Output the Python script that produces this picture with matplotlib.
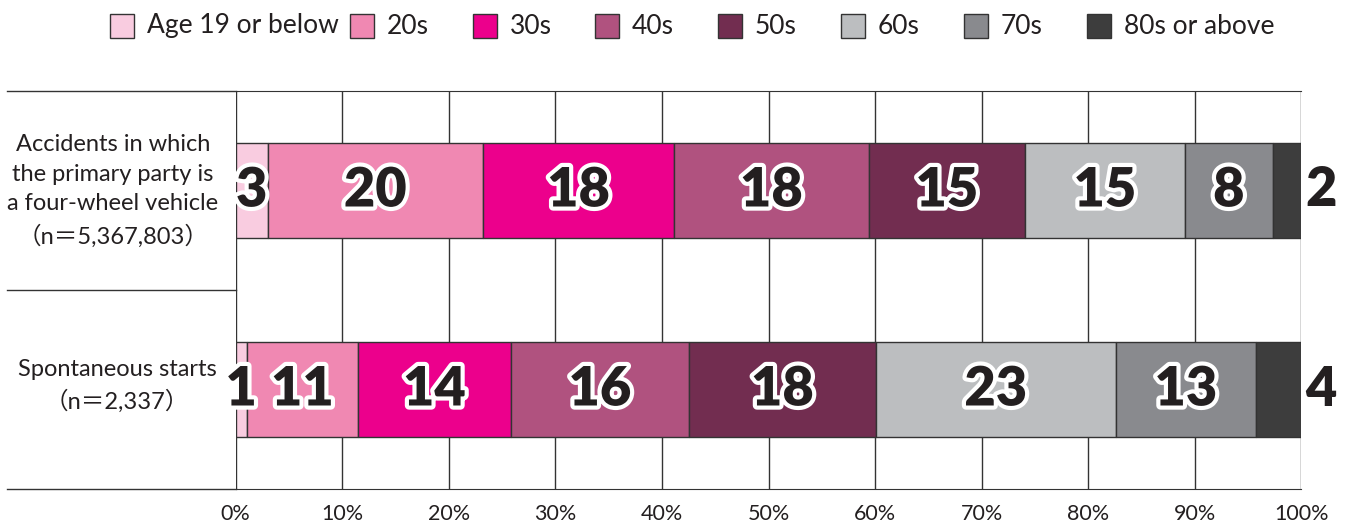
import matplotlib.pyplot as plt
import matplotlib.patheffects as pe
from matplotlib.patches import Rectangle
from matplotlib.lines import Line2D

# 데이터
age_groups = ['Age 19 or below', '20s', '30s', '40s', '50s', '60s', '70s', '80s or above']
colors = ['#F9CCE0', '#F088B2', '#EC008C', '#B0527F', '#722D50', '#BCBEC0', '#898A8E', '#3D3D3D']

four_wheel = [3.0, 20.2, 17.95, 18.24, 14.70, 14.96, 8.29, 2.66]
four_wheel_labels = ['3', '20', '18', '18', '15', '15', '8', '2']
spontaneous = [1.03, 10.47, 14.30, 16.76, 17.49, 22.55, 13.14, 4.25]
spontaneous_labels = ['1', '11', '14', '16', '18', '23', '13', '4']

row_names = ['Accidents in which\nthe primary party is\na four-wheel vehicle\n（n＝5,367,803）',
             'Spontaneous starts\n（n＝2,337）']
xticks = [0, 10, 20, 30, 40, 50, 60, 70, 80, 90, 100]

FONT = ['Lato', 'Noto Sans CJK JP']
TXT = '#231F20'
LINE = '#333333'

W, H = 1350, 522
fig = plt.figure(figsize=(W / 100, H / 100), dpi=100)
ax = fig.add_axes([235.7 / W, 1 - 489 / H, (1301.3 - 235.7) / W, (489 - 91) / H])

rows = [(1.5, four_wheel, four_wheel_labels), (0.5, spontaneous, spontaneous_labels)]
outline = [pe.Stroke(linewidth=6, foreground='white'), pe.Normal()]

for y, vals, labels in rows:
    left = 0
    for i, (v, lab) in enumerate(zip(vals, labels)):
        ax.barh(y, v, left=left, height=0.477, color=colors[i],
                edgecolor=LINE, linewidth=1, zorder=2)
        if i == len(vals) - 1:
            # 마지막 구간은 막대 오른쪽 바깥에 표시
            ax.annotate(lab, (100, y), xytext=(14, 0), textcoords='offset points',
                        ha='center', va='center', fontsize=39, fontweight='heavy',
                        family=FONT, color=TXT)
        else:
            ax.text(left + v / 2, y, lab, ha='center', va='center', fontsize=39,
                    fontweight='heavy', family=FONT, color=TXT,
                    path_effects=outline, zorder=4)
        left += v

ax.set_xlim(0, 100)
ax.set_ylim(0, 2)
ax.set_xticks(xticks)
ax.set_xticklabels([f'{t}%' for t in xticks], family=FONT, fontsize=15.5, color=TXT)
ax.set_yticks([])
ax.tick_params(axis='x', length=0, pad=11)
for t in xticks:
    ax.axvline(t, color=LINE, linewidth=1, zorder=1)
for s in ax.spines.values():
    s.set_visible(False)
ax.spines['top'].set_visible(True)
ax.spines['bottom'].set_visible(True)
ax.spines['top'].set_color(LINE)
ax.spines['bottom'].set_color(LINE)

# 왼쪽 표 영역 선
for yp in [91, 290, 489]:
    fig.add_artist(Line2D([7 / W, 235.7 / W], [1 - yp / H, 1 - yp / H],
                          color=LINE, linewidth=1))
fig.text(113 / W, 1 - 191 / H, row_names[0], ha='center', va='center',
         family=FONT, fontsize=17, color=TXT, linespacing=1.5)
fig.text(117 / W, 1 - 386 / H, row_names[1], ha='center', va='center',
         family=FONT, fontsize=17, color=TXT, linespacing=1.5)

# 범례
legend_x = [110, 350, 473, 595, 718, 841, 964, 1087]
for i, (name, c) in enumerate(zip(age_groups, colors)):
    x0 = legend_x[i]
    fig.add_artist(Rectangle((x0 / W, 1 - 38 / H), 24 / W, 24 / H,
                             facecolor=c, edgecolor=LINE, linewidth=1,
                             transform=fig.transFigure))
    fig.text((x0 + 37) / W, 1 - 26 / H, name, ha='left', va='center',
             family=FONT, fontsize=19, color=TXT)

plt.savefig('out.png', dpi=100)
